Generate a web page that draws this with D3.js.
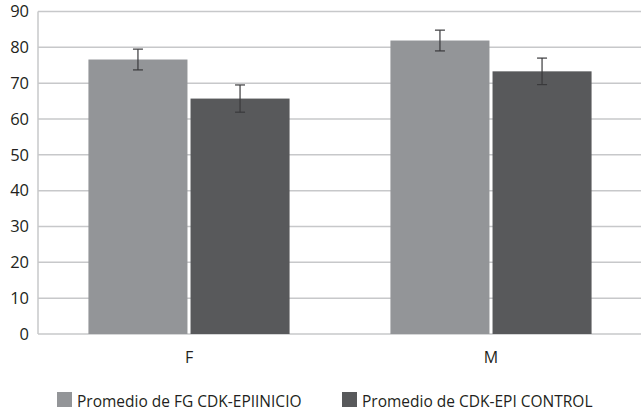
<!DOCTYPE html>
<html>
<head>
<meta charset="utf-8">
<script src="https://cdn.jsdelivr.net/npm/d3@7"></script>
<style>
  body { margin: 0; background: #fff; }
  text { font-family: "Open Sans", sans-serif; fill: #231f20; }
</style>
</head>
<body>
<div class="canvas"></div>
<script>
// data
const categories = ['F', 'M'];
const seriesNames = ['Promedio de FG CDK-EPIINICIO', 'Promedio de CDK-EPI CONTROL'];
const inicioValues = [76.6, 81.9];
const inicioErrors = [2.9, 2.9];
const controlValues = [65.7, 73.3];
const controlErrors = [3.8, 3.7];
const yTicks = [0, 10, 20, 30, 40, 50, 60, 70, 80, 90];

const colors = ['#939598', '#58595b'];

const width = 641, height = 414;
const margin = { top: 11.5, right: -1, bottom: 80, left: 38 };
const graphWidth = width - margin.left - margin.right;
const graphHeight = height - margin.top - margin.bottom;

const svg = d3.select('.canvas')
  .append('svg')
    .attr('width', width)
    .attr('height', height);

const graph = svg.append('g')
  .attr('transform', `translate(${margin.left}, ${margin.top})`);

// scales
const x0 = d3.scaleBand().domain(categories).range([0, graphWidth]);
const x1 = d3.scaleBand().domain(seriesNames)
  .range([x0.bandwidth() * 0.167, x0.bandwidth() * 0.833])
  .paddingInner(0.03);
const y = d3.scaleLinear().domain([0, 90]).range([graphHeight, 0]);

// gridlines
graph.selectAll('line.grid')
  .data(yTicks)
  .enter().append('line')
    .attr('class', 'grid')
    .attr('x1', 0).attr('x2', graphWidth)
    .attr('y1', d => y(d)).attr('y2', d => y(d))
    .attr('stroke', '#c7c8ca')
    .attr('stroke-width', 1.5);

// left axis line
graph.append('line')
  .attr('x1', 0).attr('x2', 0)
  .attr('y1', y(90)).attr('y2', y(0))
  .attr('stroke', '#c7c8ca')
  .attr('stroke-width', 1.5);

// y tick labels
const yAxis = d3.axisLeft(y).tickValues(yTicks).tickSize(0).tickPadding(9);
const yAxisGroup = graph.append('g').call(yAxis);
yAxisGroup.select('.domain').remove();
yAxisGroup.selectAll('text')
  .attr('font-size', 16.5)
  .attr('font-family', '"Open Sans", sans-serif')
  .attr('fill', '#231f20');

// x labels
const xAxis = d3.axisBottom(x0).tickSize(0).tickPadding(18);
const xAxisGroup = graph.append('g')
  .attr('transform', `translate(0, ${graphHeight})`)
  .call(xAxis);
xAxisGroup.select('.domain').remove();
xAxisGroup.selectAll('text')
  .attr('font-size', 16)
  .attr('font-family', '"Open Sans", sans-serif')
  .attr('fill', '#231f20');

// bars
const rows = categories.map((c, i) => ({
  cat: c,
  vals: [
    { s: seriesNames[0], v: inicioValues[i], e: inicioErrors[i], c: colors[0] },
    { s: seriesNames[1], v: controlValues[i], e: controlErrors[i], c: colors[1] }
  ]
}));

const groups = graph.selectAll('g.cat')
  .data(rows)
  .enter().append('g')
    .attr('class', 'cat')
    .attr('transform', d => `translate(${x0(d.cat)}, 0)`);

groups.selectAll('rect')
  .data(d => d.vals)
  .enter().append('rect')
    .attr('x', d => x1(d.s))
    .attr('width', x1.bandwidth())
    .attr('y', d => y(d.v))
    .attr('height', d => y(0) - y(d.v))
    .attr('fill', d => d.c);

// error bars
const err = groups.selectAll('g.err')
  .data(d => d.vals)
  .enter().append('g')
    .attr('class', 'err')
    .attr('stroke', '#3a3a3c')
    .attr('stroke-width', 1.2);

err.append('line')
  .attr('x1', d => x1(d.s) + x1.bandwidth() / 2)
  .attr('x2', d => x1(d.s) + x1.bandwidth() / 2)
  .attr('y1', d => y(d.v + d.e))
  .attr('y2', d => y(d.v - d.e));
err.append('line')
  .attr('x1', d => x1(d.s) + x1.bandwidth() / 2 - 5)
  .attr('x2', d => x1(d.s) + x1.bandwidth() / 2 + 5)
  .attr('y1', d => y(d.v + d.e))
  .attr('y2', d => y(d.v + d.e));
err.append('line')
  .attr('x1', d => x1(d.s) + x1.bandwidth() / 2 - 5)
  .attr('x2', d => x1(d.s) + x1.bandwidth() / 2 + 5)
  .attr('y1', d => y(d.v - d.e))
  .attr('y2', d => y(d.v - d.e));

// legend
const legendX = [57, 342];
const legend = svg.selectAll('g.legend')
  .data(seriesNames)
  .enter().append('g')
    .attr('class', 'legend')
    .attr('transform', (d, i) => `translate(${legendX[i]}, 392)`);

legend.append('rect')
  .attr('width', 15).attr('height', 15)
  .attr('fill', (d, i) => colors[i]);

legend.append('text')
  .attr('x', 20)
  .attr('y', 15)
  .attr('font-size', 15.5)
  .text(d => d);
</script>
</body>
</html>
